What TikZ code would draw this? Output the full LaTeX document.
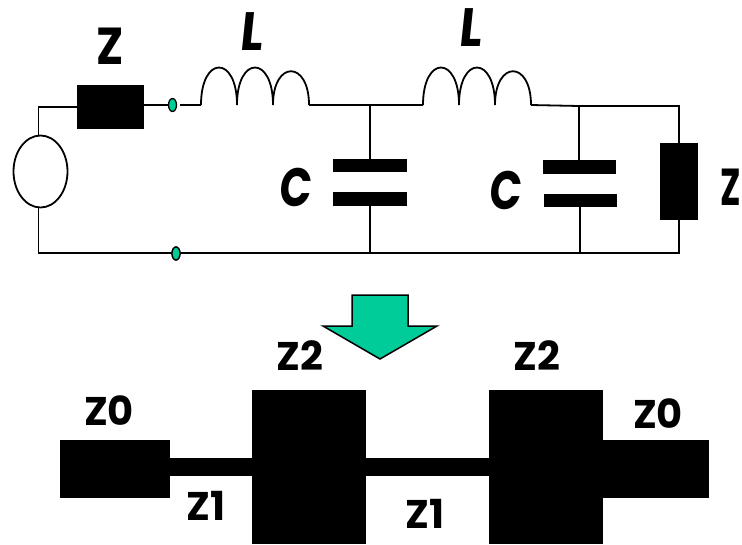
\documentclass[tikz,border=0pt]{standalone}
\usepackage{fontspec}
\setmainfont{Poppins}
\newfontfamily\slantfont[FakeSlant=0.12]{Poppins}
\definecolor{tealgreen}{HTML}{00CC99}
\tikzset{
  wire/.style={draw=black,line width=1.8pt},
  block/.style={fill=black,draw=none,rectangle,inner sep=0pt,outer sep=0pt},
  dot/.style={ellipse,draw=black,fill=tealgreen,line width=1.3pt,inner sep=0pt,minimum width=8pt,minimum height=13pt},
  bigtxt/.style={inner sep=0pt,font=\fontsize{52}{52}\selectfont\bfseries,text=black},
  sltxt/.style={inner sep=0pt,font=\fontsize{54}{54}\slantfont\bfseries,text=black},
  lbl/.style={inner sep=0pt,font=\fontsize{40}{40}\selectfont\bfseries,text=black},
}
\usetikzlibrary{shapes.geometric}
\newcommand{\coilpath}[1]{(#1,105) .. controls (#1,55) and ({#1+36},55) .. ({#1+36},105)
   .. controls ({#1+36},55) and ({#1+72},55) .. ({#1+72},105)
   .. controls ({#1+72},60) and ({#1+108},60) .. ({#1+108},105)}
\begin{document}
\begin{tikzpicture}[x=1pt,y=-1pt]
\useasboundingbox (0,0) rectangle (742,544);
% source and series impedance
\node[ellipse,draw=black,line width=1.8pt,fill=white,minimum width=54pt,minimum height=72pt,inner sep=0pt,outer sep=0pt] (src) at (40.5,171.5) {};
\node[block,minimum width=67pt,minimum height=44pt] (zs) at (110.5,107) {};
\node[dot] (dtop) at (172.5,105) {};
\node[dot] (dbot) at (176,253.5) {};
% corners
\coordinate (tl) at (38.5,107);
\coordinate (bl) at (38.5,253);
\coordinate (br) at (679,253);
\coordinate (tr) at (679,106);
\coordinate (j1) at (370,105);
\coordinate (j2) at (579,106);
\coordinate (b1) at (370,253);
\coordinate (b2) at (580,253);
\coordinate (c1a) at (201,105);
\coordinate (c1b) at (309,105);
\coordinate (c2a) at (423,105);
\coordinate (c2b) at (531,105);
\coordinate (gapl) at (180,105);
% capacitors
\node[block,minimum width=74pt,minimum height=13.5pt] (p1) at (370,165.5) {};
\node[block,minimum width=74pt,minimum height=13.5pt] (p2) at (370,199) {};
\node[block,minimum width=73pt,minimum height=13.5pt] (p3) at (579.5,167) {};
\node[block,minimum width=73pt,minimum height=13.5pt] (p4) at (580,200.5) {};
% load
\node[block,minimum width=38pt,minimum height=77pt] (zl) at (679,181.5) {};
% wires
\draw[wire] (src.north -| tl) -- (tl) -- (zs.west |- tl);
\draw[wire] (zs.east |- dtop) -- (dtop.west);
\draw[wire] (gapl) -- (c1a);
\draw[wire,line join=miter] \coilpath{201};
\draw[wire] (c1b) -- (j1) -- (c2a);
\draw[wire,line join=miter] \coilpath{423};
\draw[wire] (c2b) -- (j2) -- (tr) -- (zl.north);
\draw[wire] (j1) -- (p1.north);
\draw[wire] (j2) -- (p3.north -| j2);
\draw[wire] (p2.south) -- (b1);
\draw[wire] (p4.south) -- (b2);
\draw[wire] (zl.south) -- (br) -- (bl) -- (src.south -| bl);
\node[dot] at (dbot) {};
% labels, circuit
\node[bigtxt,xscale=.88] (lz1) at (110,46) {Z};
\node[sltxt,xscale=.88] (ll1) at (251,32) {L};
\node[sltxt,xscale=.88] (ll2) at (470,28) {L};
\node[sltxt,xscale=.78] (lc1) at (295,187) {C};
\node[sltxt,xscale=.78] (lc2) at (505,190) {C};
\node[bigtxt,xscale=.66,anchor=east] (lz2) at (741.5,187) {Z};
% arrow
\coordinate (a1) at (352,295);
\coordinate (a2) at (408,295);
\coordinate (a3) at (408,326);
\coordinate (a4) at (437,326);
\coordinate (a5) at (380,359);
\coordinate (a6) at (323,326);
\coordinate (a7) at (352,326);
\draw[fill=tealgreen,draw=black,line width=1.5pt,line join=miter] (a1) -- (a2) -- (a3) -- (a4) -- (a5) -- (a6) -- (a7) -- cycle;
% microstrip
\node[block,minimum width=110pt,minimum height=57.5pt] (m0) at (115,468.75) {};
\node[block,minimum width=114pt,minimum height=154pt] (m2) at (309,467) {};
\node[block,minimum width=114pt,minimum height=154pt] (m3) at (546,467) {};
\node[block,minimum width=106pt,minimum height=57.5pt] (m4) at (656,468.75) {};
\node[block,minimum width=82pt,minimum height=18pt] (m1) at (211,467) {};
\node[block,minimum width=124pt,minimum height=18pt] (m5) at (428,467) {};
% labels, microstrip
\node[lbl] (t1) at (109,411) {Z0};
\node[lbl] (t2) at (300,356) {Z2};
\node[lbl] (t3) at (206,506) {Z1};
\node[lbl] (t4) at (537,356) {Z2};
\node[lbl] (t5) at (658,414) {Z0};
\node[lbl] (t6) at (425,514) {Z1};
\end{tikzpicture}
\end{document}
